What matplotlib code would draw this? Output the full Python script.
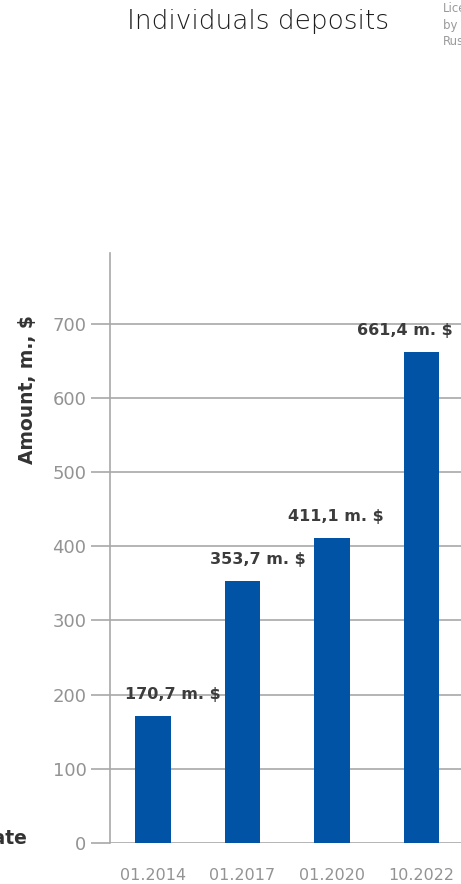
import matplotlib
matplotlib.use("Agg")
import matplotlib.pyplot as plt

dates = ["01.2014", "01.2017", "01.2020", "10.2022"]
amounts = [170.7, 353.7, 411.1, 661.4]
labels = ["170,7 m. $", "353,7 m. $", "411,1 m. $", "661,4 m. $"]
yticks = [0, 100, 200, 300, 400, 500, 600, 700]

# horizontal nudge of each value label, in points
label_dx = [14, 11, 3, -12]

plt.rcParams['font.family'] = ['DejaVu Sans']

W, H = 461, 884
fig = plt.figure(figsize=(W / 100, H / 100), dpi=100)

# axes box in pixels: left 110, bottom 843, top 253, runs past the right edge
left, right, top, bottom = 110, 520, 253, 843
ax = fig.add_axes([left / W, 1 - bottom / H, (right - left) / W, (bottom - top) / H])

x = range(len(dates))
ax.bar(x, amounts, width=0.4, color="#0153a5", zorder=3)

for i, (v, lab) in enumerate(zip(amounts, labels)):
    ax.annotate(lab, (i, v), xytext=(label_dx[i], 10), textcoords="offset points",
                ha="center", va="bottom", fontsize=11.5, fontweight="bold",
                color="#3c3c3c")

ax.set_xlim(-0.48, 4.1)
ax.set_ylim(0, 795)
ax.set_yticks(yticks)
ax.set_xticks(list(x))
ax.set_xticklabels(dates)
ax.yaxis.grid(True, color="#a8a8a8", linewidth=1.2, zorder=0)
ax.set_axisbelow(True)

for s in ["top", "right", "bottom"]:
    ax.spines[s].set_visible(False)
ax.spines["left"].set_color("#a8a8a8")
ax.spines["left"].set_linewidth(1.2)

ax.tick_params(axis="y", length=14, width=1.2, color="#a8a8a8",
               labelcolor="#939393", labelsize=13, pad=3)
ax.tick_params(axis="x", length=0, labelcolor="#939393", labelsize=11.5, pad=18)

fig.text(258 / W, 1 - 22 / H, "Individuals deposits", ha="center", va="center",
         fontsize=19, fontweight="light", color="#1e1e1e")
fig.text(443 / W, 1 - 2 / H, "Licensed\nby the Bank of\nRussia", ha="left", va="top",
         fontsize=8.5, color="#9a9a9a", linespacing=1.35)
fig.text(28 / W, 1 - 390 / H, "Amount, m., $", rotation=90, ha="center",
         va="center", fontsize=13.5, fontweight="bold", color="#333333")
fig.text(27 / W, 1 - 838 / H, "Date", ha="right", va="center",
         fontsize=13.5, fontweight="bold", color="#333333")

fig.savefig("out.png", dpi=100)
